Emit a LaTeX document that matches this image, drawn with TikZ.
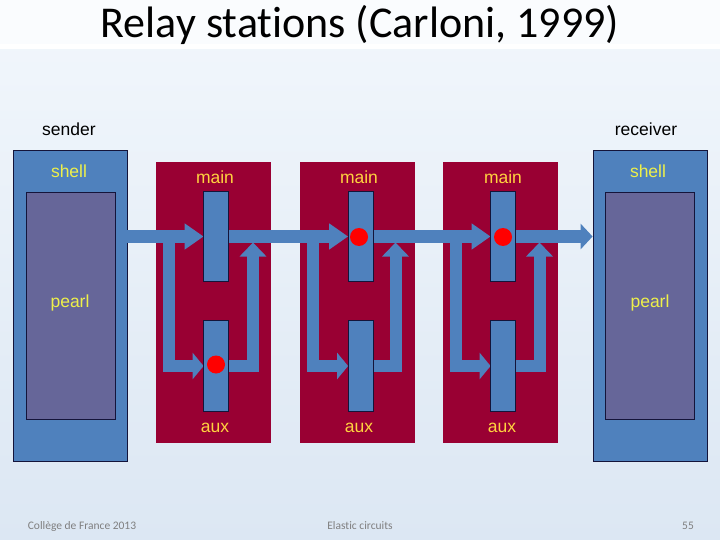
\documentclass[tikz,border=0pt]{standalone}
\usepackage{fontspec}
\setmainfont{Liberation Sans}
\newfontfamily\calib[Ligatures=NoCommon]{Carlito}
\usetikzlibrary{arrows.meta}
\definecolor{bgtop}{HTML}{F2F7FC}
\definecolor{bgbot}{HTML}{DCE7F3}
\definecolor{shellblue}{HTML}{4F81BD}
\definecolor{pearlc}{HTML}{666699}
\definecolor{boxred}{HTML}{990033}
\definecolor{outl}{HTML}{14143A}
\definecolor{ytxt}{HTML}{FFD23F}
\definecolor{ytxtb}{HTML}{EEF04A}
\definecolor{foot}{HTML}{7F7F7F}
\tikzset{
  shellbox/.style={draw=outl, line width=0.8pt, fill=shellblue, minimum width=114pt, minimum height=311pt, inner sep=0pt},
  pearlbox/.style={draw=outl, line width=0.8pt, fill=pearlc, minimum width=89pt, minimum height=227pt, inner sep=0pt},
  redbox/.style={fill=boxred, minimum width=115pt, minimum height=281pt, inner sep=0pt},
  regbox/.style={draw=outl, line width=0.8pt, fill=shellblue, minimum width=24pt, minimum height=89pt, inner sep=0pt},
  token/.style={circle, fill=red, minimum size=18pt, inner sep=0pt},
  flow/.style={draw=shellblue, line width=12pt, line join=miter},
  headlong/.style={-{Triangle[width=25pt,length=19pt]}},
  headshort/.style={-{Triangle[width=26pt,length=11pt]}},
  headup/.style={-{Triangle[width=26pt,length=14pt]}},
  lbl/.style={font=\fontsize{17.5}{20}\selectfont, text=ytxt, inner sep=0pt},
  lblb/.style={font=\fontsize{17.5}{20}\selectfont, text=ytxtb, inner sep=0pt},
  blk/.style={font=\fontsize{17.5}{20}\selectfont, text=black, inner sep=0pt},
  ftxt/.style={font=\calib\fontsize{11.5}{13}\selectfont, text=foot, inner sep=0pt}
}
\begin{document}
\begin{tikzpicture}[x=1pt,y=-1pt]
\useasboundingbox (0,0) rectangle (720,540);
% background
\shade[top color=bgtop, bottom color=bgbot] (0,0) rectangle (720,540);
\fill[white!60!bgtop] (0,0) rectangle (720,44);
\fill[white] (0,44) rectangle (720,49);
% title
\node[font=\calib\fontsize{44}{50}\selectfont, inner sep=0pt, anchor=base] (title) at (360,38) {Relay stations (Carloni, 1999)};
% headers
\node[blk] (sender) at (69,129) {sender};
\node[blk] (receiver) at (646,129) {receiver};
% red relay stations
\node[redbox] (r1) at (213.5,302.5) {};
\node[redbox] (r2) at (357,302.5) {};
\node[redbox] (r3) at (500.5,302.5) {};
% shells
\node[shellbox] (ss) at (70,305.5) {};
\node[pearlbox] (sp) at (71,305.5) {};
\node[shellbox] (rs) at (650,305.5) {};
\node[pearlbox] (rp) at (650,305.5) {};
% registers
\node[regbox] (m1) at (216,236.5) {};
\node[regbox] (m2) at (360.5,236.5) {};
\node[regbox] (m3) at (503,236.5) {};
\node[regbox, minimum height=90pt] (a1) at (216,366) {};
\node[regbox, minimum height=90pt] (a2) at (360.5,366) {};
\node[regbox, minimum height=90pt] (a3) at (503,366) {};
% branch coordinates
\coordinate (bl1) at (168.5,236.5);
\coordinate (bl2) at (312.5,236.5);
\coordinate (bl3) at (455.5,236.5);
\coordinate (br1) at (253,242.5);
\coordinate (br2) at (395.5,242.5);
\coordinate (br3) at (539.5,242.5);
% feedback paths
\foreach \i in {1,2,3}{
  \draw[flow, headshort] (bl\i) |- (a\i.west);
  \draw[flow, headup] (a\i.east) -| (br\i);
}
% main flow
\draw[flow, headlong] (ss.east |- m1.west) -- (m1.west);
\draw[flow, headlong] (m1.east) -- (m2.west);
\draw[flow, headlong] (m2.east) -- (m3.west);
\draw[flow, -{Triangle[width=25pt,length=12pt]}] (m3.east) -- (rs.west |- m3.east);
% redraw registers on top
\foreach \n in {m1,m2,m3,a1,a2,a3}{
  \draw[draw=outl, line width=0.8pt, fill=shellblue] (\n.south west) rectangle (\n.north east);
}
% tokens
\node[token] (t1) at (216,364.5) {};
\node[token] (t2) at (359,237) {};
\node[token] (t3) at (503,237) {};
% labels
\node[lblb] (shl) at (69,171) {shell};
\node[lblb] (shr) at (648,171) {shell};
\node[lblb] (pl) at (70,303) {pearl};
\node[lblb] (pr) at (650,303) {pearl};
\node[lbl] (mn1) at (215,177) {main};
\node[lbl] (mn2) at (359,177) {main};
\node[lbl] (mn3) at (503,177) {main};
\node[lbl] (ax1) at (215,428) {aux};
\node[lbl] (ax2) at (359,428) {aux};
\node[lbl] (ax3) at (502,428) {aux};
% footer
\node[ftxt] (f1) at (82,526) {Collège de France 2013};
\node[ftxt] (f2) at (360,526) {Elastic circuits};
\node[ftxt] (f3) at (688,526) {55};
\end{tikzpicture}
\end{document}
